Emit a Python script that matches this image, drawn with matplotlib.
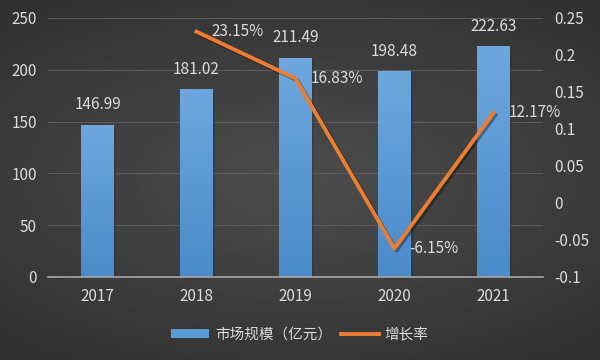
import numpy as np
import matplotlib.pyplot as plt
import matplotlib.patheffects as pe
from matplotlib.colors import LinearSegmentedColormap
from matplotlib.patches import Patch
from matplotlib.lines import Line2D

plt.rcParams['font.family'] = ['Noto Sans CJK SC', 'DejaVu Sans']

# data
years = ['2017', '2018', '2019', '2020', '2021']
market_size = [146.99, 181.02, 211.49, 198.48, 222.63]
growth_years = ['2018', '2019', '2020', '2021']
growth_rate = [0.2315, 0.1683, -0.0615, 0.1217]
growth_labels = ['23.15%', '16.83%', '-6.15%', '12.17%']

text_col = '#dcdcdc'
num_fs = 11

fig = plt.figure(figsize=(6, 3.6), dpi=100)

# radial gradient background
bg = fig.add_axes([0, 0, 1, 1], zorder=-10)
yy, xx = np.mgrid[-1:1:200j, -1:1:300j]
r = np.sqrt((xx * 0.9) ** 2 + (yy * 1.1) ** 2)
bg.imshow(0.30 - 0.11 * np.clip(r, 0, 1.4) / 1.4, cmap='gray', vmin=0, vmax=1,
          aspect='auto', extent=[0, 1, 0, 1])
bg.axis('off')

ax = fig.add_axes([0.08, 0.2306, 0.825, 0.7194])
ax.patch.set_alpha(0)
x = np.arange(len(years))
bars = ax.bar(x, market_size, width=0.33, color='#5b9bd5', zorder=2,
              path_effects=[pe.SimplePatchShadow(offset=(1.5, -1.5), alpha=0.35), pe.Normal()])

# gradient fill on bars
grad = np.linspace(0, 1, 100).reshape(-1, 1)
cm = LinearSegmentedColormap.from_list('b', ['#4a8bca', '#6ea7de'])
for b in bars:
    im = ax.imshow(grad, cmap=cm, aspect='auto', origin='lower', zorder=2.5,
                   extent=[b.get_x(), b.get_x() + b.get_width(), 0, b.get_height()])
    im.set_clip_path(b)

for xi, v in zip(x, market_size):
    ax.text(xi, v + 11, f'{v:.2f}', ha='center', va='bottom', color=text_col, fontsize=num_fs)

ax.set_xlim(-0.5, 4.5)
ax.set_ylim(0, 250)
ax.set_yticks(range(0, 251, 50))
ax.set_xticks(x)
ax.set_xticklabels(years)
ax.grid(axis='y', color='#5c5c5c', linewidth=0.8, zorder=0)
for s in ['top', 'right', 'left']:
    ax.spines[s].set_visible(False)
ax.spines['bottom'].set_color('#a6a6a6')
ax.spines['bottom'].set_linewidth(1.2)
ax.tick_params(colors=text_col, labelsize=num_fs, length=0, pad=8)

ax2 = ax.twinx()
gx = [years.index(g) for g in growth_years]
ax2.plot(gx, growth_rate, color='#ed7d31', linewidth=2.8, zorder=5,
         path_effects=[pe.SimpleLineShadow(offset=(1.5, -1.5), alpha=0.35), pe.Normal()])
for xi, v, lab in zip(gx, growth_rate, growth_labels):
    ax2.text(xi + 0.15, v, lab, ha='left', va='center', color=text_col, fontsize=num_fs, zorder=6)
ax2.set_ylim(-0.1, 0.25)
ax2.set_yticks([-0.1, -0.05, 0, 0.05, 0.1, 0.15, 0.2, 0.25])
ax2.set_yticklabels(['-0.1', '-0.05', '0', '0.05', '0.1', '0.15', '0.2', '0.25'])
for s in ax2.spines.values():
    s.set_visible(False)
ax2.tick_params(colors=text_col, labelsize=num_fs, length=0, pad=8)

handles = [Patch(facecolor='#5b9bd5'), Line2D([0], [0], color='#ed7d31', linewidth=2.8)]
fig.legend(handles, ['市场规模（亿元）', '增长率'], loc='center', bbox_to_anchor=(0.5, 0.07),
           ncol=2, frameon=False, fontsize=10.5, labelcolor=text_col,
           handlelength=2.6, handleheight=0.55, columnspacing=0.6, handletextpad=0.4)

fig.savefig('out.png', dpi=100)
